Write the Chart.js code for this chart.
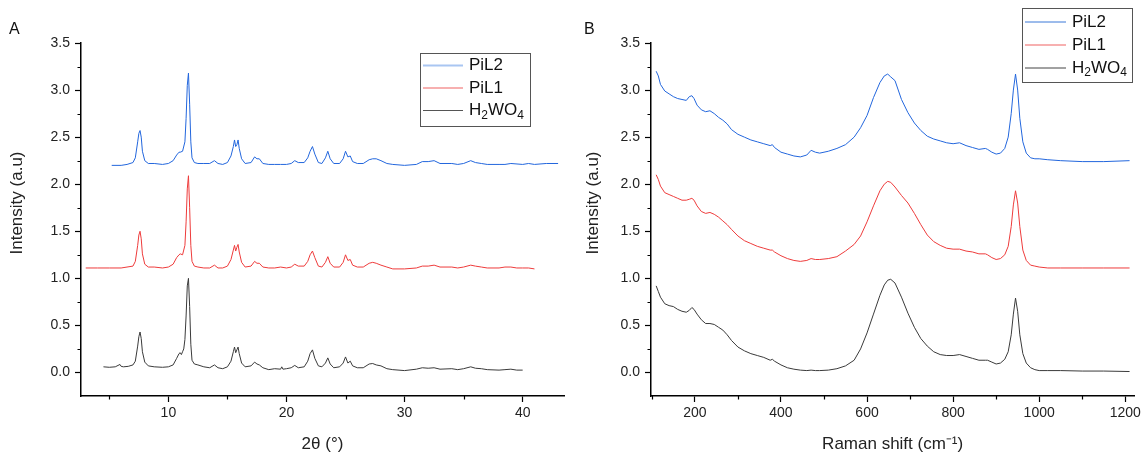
<!DOCTYPE html>
<html>
<head>
<meta charset="utf-8">
<script src="https://cdn.jsdelivr.net/npm/chart.js@4/dist/chart.umd.min.js"></script>
<style>
  body { margin: 0; background: #fff; }
  #wrap { position: relative; width: 1144px; height: 458px; }
  .panel { position: absolute; top: 0; width: 572px; height: 458px; }
</style>
</head>
<body>
<div id="wrap">
  <div class="panel" style="left:0"><canvas id="xrdChart"></canvas></div>
  <div class="panel" style="left:572px"><canvas id="ramanChart"></canvas></div>
</div>
<script>
// ---- data ----
const seriesNames = ['PiL2', 'PiL1', 'H₂WO₄'];
const lineColors = ['#2266dd', '#ee3b3b', '#3a3a3a'];

// XRD: [2theta, intensity]
const xrdH2WO4 = [[4.5,0.06],[5.0,0.055],[5.5,0.06],[5.9,0.085],[6.0,0.065],[6.2,0.06],[6.6,0.065],[7.0,0.08],[7.2,0.12],[7.4,0.28],[7.5,0.38],[7.6,0.43],[7.7,0.36],[7.8,0.22],[8.0,0.11],[8.3,0.07],[8.8,0.06],[9.5,0.055],[10.0,0.06],[10.4,0.08],[10.7,0.15],[10.9,0.2],[11.0,0.21],[11.1,0.19],[11.2,0.22],[11.3,0.25],[11.4,0.35],[11.5,0.6],[11.6,0.92],[11.7,1.0],[11.8,0.7],[11.9,0.3],[12.0,0.13],[12.2,0.09],[12.5,0.08],[13.0,0.06],[13.5,0.05],[13.9,0.08],[14.2,0.05],[14.6,0.04],[15.0,0.06],[15.3,0.12],[15.5,0.22],[15.6,0.27],[15.7,0.21],[15.8,0.24],[15.9,0.27],[16.0,0.2],[16.2,0.1],[16.5,0.06],[17.0,0.07],[17.3,0.11],[17.5,0.09],[17.7,0.08],[18.0,0.05],[18.5,0.03],[19.0,0.04],[19.5,0.035],[19.6,0.06],[19.7,0.035],[20.0,0.04],[20.4,0.05],[20.7,0.075],[21.0,0.05],[21.5,0.06],[21.8,0.12],[22.0,0.2],[22.2,0.24],[22.4,0.15],[22.7,0.07],[23.0,0.06],[23.3,0.1],[23.5,0.155],[23.7,0.09],[24.0,0.05],[24.5,0.06],[24.8,0.1],[25.0,0.165],[25.2,0.1],[25.4,0.12],[25.6,0.07],[26.0,0.05],[26.5,0.05],[27.0,0.09],[27.3,0.095],[27.6,0.08],[28.0,0.07],[28.5,0.04],[29.0,0.03],[30.0,0.02],[31.0,0.035],[31.5,0.05],[32.0,0.045],[32.5,0.05],[33.0,0.035],[34.0,0.04],[34.5,0.03],[35.0,0.04],[35.6,0.06],[36.0,0.045],[36.5,0.04],[37.0,0.03],[38.0,0.025],[38.5,0.03],[39.0,0.035],[39.5,0.025],[40.0,0.025]];

const xrdPiL1 = [[3.0,1.11],[4.0,1.11],[5.0,1.11],[6.0,1.11],[7.0,1.13],[7.2,1.18],[7.4,1.35],[7.5,1.46],[7.6,1.5],[7.7,1.42],[7.8,1.26],[8.0,1.15],[8.3,1.12],[8.8,1.12],[9.5,1.11],[10.0,1.12],[10.4,1.15],[10.7,1.22],[10.9,1.25],[11.0,1.26],[11.2,1.25],[11.4,1.35],[11.5,1.6],[11.6,1.95],[11.7,2.09],[11.8,1.75],[11.9,1.35],[12.0,1.18],[12.2,1.13],[12.5,1.12],[13.0,1.11],[13.5,1.11],[13.9,1.14],[14.2,1.11],[14.6,1.11],[15.0,1.13],[15.3,1.2],[15.5,1.3],[15.6,1.35],[15.7,1.29],[15.8,1.33],[15.9,1.36],[16.0,1.28],[16.2,1.17],[16.5,1.12],[17.0,1.13],[17.3,1.18],[17.5,1.16],[17.7,1.16],[18.0,1.12],[18.5,1.11],[19.0,1.11],[19.5,1.12],[20.0,1.11],[20.4,1.12],[20.7,1.15],[21.0,1.13],[21.5,1.13],[21.8,1.18],[22.0,1.25],[22.2,1.29],[22.4,1.22],[22.7,1.13],[23.0,1.12],[23.3,1.17],[23.5,1.23],[23.7,1.16],[24.0,1.12],[24.5,1.12],[24.8,1.17],[25.0,1.25],[25.2,1.19],[25.4,1.2],[25.6,1.14],[26.0,1.12],[26.5,1.12],[27.0,1.16],[27.3,1.17],[27.6,1.16],[28.0,1.14],[28.5,1.12],[29.0,1.1],[30.0,1.1],[31.0,1.11],[31.5,1.13],[32.0,1.13],[32.5,1.14],[33.0,1.12],[34.0,1.12],[34.5,1.11],[35.0,1.12],[35.6,1.14],[36.0,1.13],[36.5,1.12],[37.0,1.11],[38.0,1.11],[38.5,1.12],[39.0,1.12],[39.5,1.11],[40.0,1.11],[40.5,1.11],[41.0,1.1]];

const xrdPiL2 = [[5.2,2.2],[6.0,2.2],[6.5,2.21],[7.0,2.23],[7.2,2.28],[7.4,2.45],[7.5,2.54],[7.6,2.57],[7.7,2.5],[7.8,2.35],[8.0,2.25],[8.3,2.22],[8.8,2.22],[9.5,2.21],[10.0,2.22],[10.4,2.25],[10.7,2.31],[10.9,2.34],[11.0,2.34],[11.2,2.35],[11.4,2.45],[11.5,2.7],[11.6,3.05],[11.7,3.18],[11.8,2.85],[11.9,2.45],[12.0,2.28],[12.2,2.23],[12.5,2.22],[13.0,2.22],[13.5,2.22],[13.9,2.25],[14.2,2.22],[14.6,2.21],[15.0,2.23],[15.3,2.3],[15.5,2.4],[15.6,2.47],[15.7,2.4],[15.8,2.42],[15.9,2.47],[16.0,2.38],[16.2,2.27],[16.5,2.22],[17.0,2.23],[17.3,2.29],[17.5,2.27],[17.7,2.27],[18.0,2.22],[18.5,2.21],[19.0,2.21],[19.5,2.21],[20.0,2.21],[20.4,2.22],[20.7,2.25],[21.0,2.23],[21.5,2.23],[21.8,2.28],[22.0,2.35],[22.2,2.4],[22.4,2.32],[22.7,2.23],[23.0,2.22],[23.3,2.28],[23.5,2.35],[23.7,2.27],[24.0,2.22],[24.5,2.22],[24.8,2.27],[25.0,2.35],[25.2,2.29],[25.4,2.3],[25.6,2.24],[26.0,2.22],[26.5,2.22],[27.0,2.26],[27.3,2.27],[27.6,2.27],[28.0,2.25],[28.5,2.22],[29.0,2.21],[30.0,2.2],[31.0,2.21],[31.5,2.24],[32.0,2.24],[32.5,2.25],[33.0,2.22],[34.0,2.22],[34.5,2.21],[35.0,2.22],[35.6,2.25],[36.0,2.23],[36.5,2.22],[37.0,2.21],[38.0,2.21],[38.5,2.21],[39.0,2.22],[40.0,2.21],[40.5,2.22],[41.0,2.21],[42.0,2.22],[43.0,2.22]];

// Raman: shared shift axis (cm-1)
const ramanShift = [110,115,120,130,140,150,160,170,180,187,193,198,205,215,225,235,245,255,265,275,285,300,315,330,345,360,375,380,385,400,415,430,445,460,470,480,490,510,530,550,570,585,600,615,630,640,648,655,665,680,695,710,725,740,755,770,785,800,815,830,845,860,875,880,890,900,910,920,928,935,940,945,950,955,962,970,980,990,1000,1020,1050,1100,1150,1210];
const ramanH2WO4 = [0.92,0.86,0.8,0.73,0.71,0.7,0.67,0.65,0.64,0.66,0.69,0.67,0.62,0.56,0.52,0.52,0.51,0.48,0.45,0.4,0.34,0.27,0.23,0.2,0.18,0.16,0.13,0.14,0.12,0.08,0.05,0.035,0.025,0.02,0.025,0.02,0.02,0.025,0.04,0.07,0.13,0.25,0.42,0.62,0.82,0.93,0.98,0.99,0.95,0.8,0.63,0.48,0.36,0.28,0.22,0.19,0.18,0.18,0.19,0.17,0.15,0.13,0.13,0.13,0.11,0.09,0.1,0.14,0.22,0.4,0.62,0.79,0.65,0.4,0.2,0.1,0.05,0.03,0.02,0.02,0.02,0.015,0.015,0.01];
const ramanPiL1 = [2.1,2.05,1.98,1.91,1.89,1.87,1.85,1.83,1.83,1.84,1.85,1.83,1.77,1.71,1.69,1.7,1.68,1.65,1.61,1.57,1.52,1.45,1.4,1.37,1.34,1.32,1.3,1.3,1.28,1.24,1.21,1.19,1.18,1.19,1.21,1.2,1.2,1.21,1.23,1.29,1.36,1.45,1.6,1.77,1.93,2.0,2.03,2.02,1.97,1.88,1.8,1.69,1.57,1.46,1.39,1.35,1.32,1.31,1.31,1.29,1.28,1.26,1.26,1.25,1.22,1.2,1.21,1.25,1.34,1.55,1.78,1.93,1.8,1.55,1.3,1.19,1.14,1.13,1.12,1.11,1.11,1.11,1.11,1.11];
const ramanPiL2 = [3.2,3.15,3.06,2.99,2.96,2.93,2.91,2.9,2.89,2.93,2.94,2.91,2.84,2.79,2.77,2.78,2.75,2.71,2.68,2.64,2.58,2.53,2.5,2.47,2.45,2.43,2.41,2.42,2.39,2.34,2.32,2.3,2.29,2.31,2.36,2.34,2.33,2.35,2.38,2.42,2.5,2.6,2.73,2.92,3.08,3.15,3.17,3.14,3.1,2.9,2.76,2.65,2.57,2.51,2.48,2.46,2.44,2.43,2.44,2.41,2.39,2.37,2.38,2.37,2.34,2.32,2.33,2.38,2.5,2.75,3.0,3.17,3.0,2.7,2.45,2.33,2.28,2.27,2.27,2.26,2.25,2.24,2.24,2.25];

// ticks
const yTicks = [0, 0.5, 1, 1.5, 2, 2.5, 3, 3.5];
const yMinorTicks = [0.25, 0.75, 1.25, 1.75, 2.25, 2.75, 3.25];
const xrdTicks = [10, 20, 30, 40];
const xrdMinorTicks = [5, 15, 25, 35];
const ramanTicks = [200, 400, 600, 800, 1000, 1200];
const ramanMinorTicks = [100, 300, 500, 700, 900, 1100];

const FONT = '"Liberation Sans", Arial, sans-serif';
const pairs = arr => arr.map(p => ({ x: p[0], y: p[1] }));
const zip = (xs, ys) => xs.map((x, i) => ({ x: x, y: ys[i] }));

// draws text, with unicode subscript digits drawn small and lowered
function drawRich(ctx, text, x, y, size) {
  const subs = '₀₁₂₃₄₅₆₇₈₉';
  let cx = x;
  for (const ch of text) {
    const k = subs.indexOf(ch);
    if (k >= 0) {
      ctx.font = Math.round(size * 0.68) + 'px ' + FONT;
      ctx.fillText(String(k), cx, y + size * 0.3);
      cx += ctx.measureText(String(k)).width;
    } else {
      ctx.font = size + 'px ' + FONT;
      ctx.fillText(ch, cx, y);
      cx += ctx.measureText(ch).width;
    }
  }
}

function decorPlugin(cfg) {
  return {
    id: 'decor',
    afterDraw(chart) {
      const ctx = chart.ctx;
      const xs = chart.scales.x, ys = chart.scales.y;
      ctx.save();
      // minor ticks
      ctx.strokeStyle = '#000';
      ctx.lineWidth = 1.2;
      ctx.beginPath();
      cfg.xMinor.forEach(v => {
        const px = Math.round(xs.getPixelForValue(v)) + 0.5;
        ctx.moveTo(px, xs.top);
        ctx.lineTo(px, xs.top + 3.5);
      });
      yMinorTicks.forEach(v => {
        const py = Math.round(ys.getPixelForValue(v)) + 0.5;
        ctx.moveTo(ys.right, py);
        ctx.lineTo(ys.right - 3.5, py);
      });
      ctx.stroke();

      // panel letter
      ctx.fillStyle = '#111';
      ctx.textBaseline = 'middle';
      ctx.textAlign = 'left';
      ctx.font = '16px ' + FONT;
      ctx.fillText(cfg.letter, cfg.letterX, 30);

      // y title
      ctx.save();
      ctx.translate(cfg.yTitleX, 203);
      ctx.rotate(-Math.PI / 2);
      ctx.textAlign = 'center';
      ctx.font = '17px ' + FONT;
      ctx.fillStyle = '#222';
      ctx.fillText('Intensity (a.u)', 0, 0);
      ctx.restore();

      // legend box
      const L = cfg.legend;
      ctx.strokeStyle = '#555';
      ctx.lineWidth = 1;
      ctx.strokeRect(L.x + 0.5, L.y + 0.5, L.w, L.h);
      seriesNames.forEach((name, i) => {
        const ry = L.y + L.row0 + i * L.dy;
        ctx.strokeStyle = L.colors[i];
        ctx.lineWidth = L.widths[i];
        ctx.beginPath();
        ctx.moveTo(L.x + 3, ry);
        ctx.lineTo(L.x + L.lineLen, ry);
        ctx.stroke();
        ctx.fillStyle = '#111';
        ctx.textAlign = 'left';
        drawRich(ctx, name, L.x + L.lineLen + 6, ry, 17);
      });
      ctx.restore();
    }
  };
}

function makeChart(id, datasets, xCfg, decor) {
  return new Chart(document.getElementById(id), {
    type: 'line',
    data: { datasets: datasets },
    options: {
      responsive: true,
      maintainAspectRatio: false,
      animation: false,
      layout: { padding: { left: 0, right: xCfg.padRight, top: 43, bottom: 0 } },
      plugins: { legend: { display: false }, tooltip: { enabled: false } },
      elements: { point: { radius: 0 }, line: { borderWidth: 1, tension: 0 } },
      scales: {
        x: {
          type: 'linear',
          min: xCfg.min,
          max: xCfg.max,
          afterFit: s => { s.height = 62; },
          afterBuildTicks: s => { s.ticks = xCfg.ticks.map(v => ({ value: v })); },
          ticks: { color: '#222', font: { family: FONT, size: 14 }, padding: 3, maxRotation: 0,
                   callback: v => String(v) },
          grid: { drawOnChartArea: false, tickLength: 6, tickColor: '#000', tickWidth: 1.2 },
          border: { color: '#000', width: 1.5 },
          title: { display: true, text: xCfg.title, color: '#222', font: { family: FONT, size: 17 }, padding: { top: 0, bottom: 3 } }
        },
        y: {
          min: -0.25,
          max: 3.5,
          afterFit: s => { s.width = xCfg.yWidth; },
          afterBuildTicks: s => { s.ticks = yTicks.map(v => ({ value: v })); },
          ticks: { color: '#222', font: { family: FONT, size: 14 }, padding: 5, callback: v => v.toFixed(1) },
          grid: { drawOnChartArea: false, tickLength: 6, tickColor: '#000', tickWidth: 1.2 },
          border: { color: '#000', width: 1.5 }
        }
      }
    },
    plugins: [decorPlugin(decor)]
  });
}

const xrdSets = [xrdPiL2, xrdPiL1, xrdH2WO4].map((d, i) => ({
  label: seriesNames[i], data: pairs(d), borderColor: lineColors[i]
}));
const ramanSets = [ramanPiL2, ramanPiL1, ramanH2WO4].map((d, i) => ({
  label: seriesNames[i], data: zip(ramanShift, d), borderColor: lineColors[i]
}));

makeChart('xrdChart', xrdSets,
  { min: 2.6, max: 43.5, ticks: xrdTicks, title: '2θ (°)', yWidth: 81, padRight: 8 },
  { letter: 'A', letterX: 9, yTitleX: 17, xMinor: xrdMinorTicks,
    legend: { x: 420, y: 53, w: 110, h: 73, row0: 12.5, dy: 22.5, lineLen: 43,
              colors: ['#a9c6f2', '#f7b0b0', '#555'], widths: [2, 2, 1] } });

makeChart('ramanChart', ramanSets,
  { min: 98, max: 1221, ticks: ramanTicks, title: 'Raman shift (cm⁻¹)', yWidth: 79, padRight: 9 },
  { letter: 'B', letterX: 12, yTitleX: 21, xMinor: ramanMinorTicks,
    legend: { x: 450, y: 8, w: 110, h: 74, row0: 14, dy: 23, lineLen: 44,
              colors: ['#3b78d8', '#f7b0b0', '#444'], widths: [1, 2, 1] } });
</script>
</body>
</html>
